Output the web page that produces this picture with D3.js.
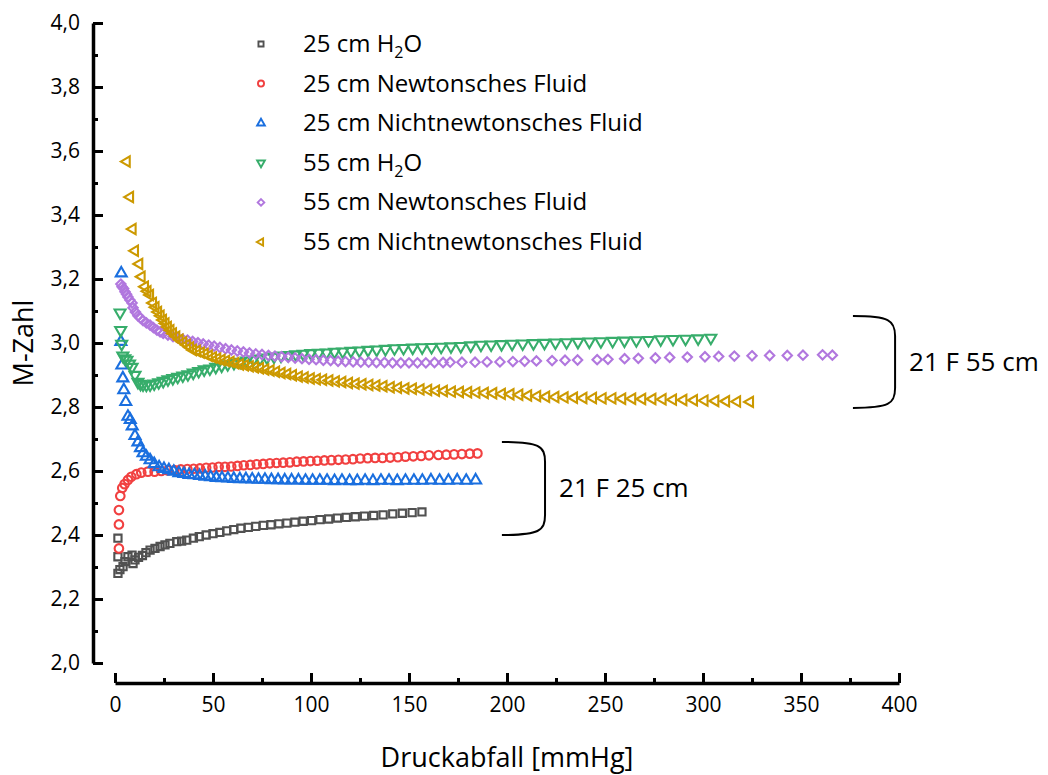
<!DOCTYPE html>
<html>
<head>
<meta charset="utf-8">
<script src="https://cdn.jsdelivr.net/npm/d3@7"></script>
<style>
  html, body { margin: 0; padding: 0; background: #fff; }
  svg { display: block; font-family: "Open Sans", sans-serif; }
</style>
</head>
<body>
<svg id="chart" width="1048" height="775"></svg>
<script>
// Pressure drop [mmHg] vs. M-number, catheter 21 F, two lengths, three fluids
const xTickValues = [0, 50, 100, 150, 200, 250, 300, 350, 400];
const yTickValues = [2.0, 2.2, 2.4, 2.6, 2.8, 3.0, 3.2, 3.4, 3.6, 3.8, 4.0];

const seriesNames = [
  "25 cm H_2O",
  "25 cm Newtonsches Fluid",
  "25 cm Nichtnewtonsches Fluid",
  "55 cm H_2O",
  "55 cm Newtonsches Fluid",
  "55 cm Nichtnewtonsches Fluid"
];
const seriesColors = ["#515151", "#F14040", "#1A6FDF", "#37AD6B", "#B177DE", "#CC9900"];

const h2o25 = [[1.5,2.390],[1.5,2.332],[1.5,2.280],[2.5,2.292],[4.1,2.301],[5.1,2.317],[6.6,2.332],[8.7,2.337],[9.2,2.311],[10.2,2.322],[12.0,2.330],[14.0,2.336],[15.8,2.345],[17.9,2.353],[20.4,2.358],[23.0,2.364],[25.5,2.369],[28.0,2.374],[31.5,2.379],[34.0,2.381],[36.6,2.384],[40.0,2.390],[43.0,2.395],[46.5,2.400],[50.0,2.404],[53.5,2.408],[57.0,2.413],[60.6,2.417],[64.2,2.421],[68.0,2.424],[71.8,2.427],[75.7,2.430],[79.6,2.432],[83.6,2.435],[87.7,2.437],[91.8,2.440],[96.0,2.443],[100.3,2.445],[104.6,2.448],[109.0,2.450],[113.5,2.453],[118.0,2.455],[122.6,2.457],[127.3,2.459],[132.0,2.461],[136.8,2.463],[141.7,2.466],[146.6,2.468],[151.6,2.470],[156.6,2.472]];

const newton25 = [[2.0,2.358],[2.0,2.433],[2.0,2.478],[2.7,2.522],[3.7,2.547],[4.9,2.559],[6.6,2.572],[8.3,2.582],[10.9,2.590],[13.4,2.595],[16.8,2.598],[20.2,2.598],[23.6,2.600],[27.0,2.602],[30.3,2.603],[33.6,2.605],[36.9,2.606],[40.1,2.607],[43.3,2.608],[46.5,2.610],[49.7,2.611],[52.9,2.613],[56.1,2.613],[59.3,2.614],[62.5,2.616],[65.7,2.618],[69.0,2.619],[72.3,2.621],[75.6,2.622],[79.0,2.624],[82.4,2.625],[85.8,2.626],[89.2,2.627],[92.7,2.629],[96.2,2.630],[99.7,2.631],[103.2,2.632],[106.8,2.633],[110.4,2.634],[114.0,2.635],[117.7,2.636],[121.4,2.637],[125.1,2.639],[128.9,2.640],[132.7,2.641],[136.5,2.641],[140.4,2.642],[144.3,2.643],[148.2,2.645],[152.2,2.646],[156.2,2.647],[160.2,2.649],[165.0,2.650],[169.0,2.651],[173.0,2.652],[177.0,2.653],[181.0,2.654],[184.9,2.655]];

const nonNewton25 = [[3.2,3.218],[3.0,3.004],[3.5,2.930],[4.0,2.890],[4.5,2.853],[5.5,2.816],[6.6,2.770],[7.8,2.760],[8.8,2.740],[10.2,2.710],[11.7,2.690],[13.0,2.672],[14.3,2.656],[16.0,2.645],[17.9,2.634],[20.0,2.622],[22.5,2.612],[25.0,2.607],[27.5,2.603],[30.0,2.598],[32.6,2.594],[35.2,2.591],[37.8,2.588],[40.5,2.587],[43.2,2.585],[46.0,2.583],[48.8,2.581],[51.7,2.579],[54.6,2.578],[57.6,2.577],[60.6,2.576],[63.7,2.575],[66.8,2.575],[70.0,2.574],[73.2,2.573],[76.5,2.573],[79.8,2.572],[83.2,2.572],[86.6,2.571],[90.1,2.571],[93.6,2.571],[97.2,2.570],[100.8,2.570],[104.5,2.570],[108.2,2.570],[112.0,2.569],[115.8,2.570],[119.7,2.569],[123.6,2.569],[127.6,2.570],[131.6,2.569],[135.7,2.570],[139.8,2.570],[144.0,2.569],[148.2,2.570],[152.5,2.570],[156.8,2.570],[161.2,2.571],[165.6,2.570],[170.1,2.570],[174.6,2.571],[179.2,2.570],[184.0,2.571]];

const h2o55 = [[2.6,3.095],[2.9,3.040],[3.4,2.997],[4.0,2.960],[5.0,2.952],[6.1,2.947],[7.4,2.935],[8.7,2.925],[10.2,2.900],[11.7,2.878],[13.0,2.872],[14.3,2.870],[16.0,2.869],[17.9,2.870],[20.0,2.873],[22.3,2.877],[24.6,2.881],[27.0,2.886],[29.5,2.890],[32.0,2.894],[34.6,2.898],[37.2,2.902],[39.9,2.907],[42.7,2.912],[45.5,2.917],[48.4,2.920],[51.4,2.925],[54.4,2.929],[57.5,2.933],[60.7,2.937],[63.9,2.941],[67.2,2.945],[70.6,2.948],[74.0,2.951],[77.5,2.954],[81.1,2.957],[84.7,2.960],[88.4,2.962],[92.2,2.964],[96.0,2.966],[99.9,2.968],[103.9,2.969],[107.9,2.970],[112.0,2.972],[116.2,2.973],[120.4,2.975],[124.7,2.976],[129.1,2.978],[133.5,2.979],[138.0,2.981],[142.6,2.983],[147.2,2.984],[151.9,2.985],[156.7,2.986],[161.5,2.987],[166.4,2.988],[171.4,2.989],[176.4,2.990],[181.5,2.992],[186.7,2.994],[191.9,2.995],[197.2,2.996],[202.6,2.997],[208.0,2.998],[213.5,2.999],[219.1,3.000],[224.7,3.001],[230.4,3.002],[236.2,3.003],[242.0,3.004],[247.9,3.005],[253.9,3.006],[259.9,3.007],[266.0,3.008],[272.2,3.009],[278.4,3.011],[284.7,3.012],[291.1,3.013],[297.5,3.014],[304.0,3.016]];

const newton55 = [[3.0,3.184],[3.6,3.176],[4.4,3.170],[5.1,3.160],[5.9,3.152],[6.6,3.144],[7.6,3.134],[8.7,3.125],[9.2,3.110],[10.4,3.097],[11.7,3.085],[13.0,3.078],[14.3,3.070],[16.0,3.063],[17.9,3.056],[19.6,3.048],[21.4,3.040],[23.0,3.035],[24.6,3.030],[27.0,3.025],[29.6,3.020],[32.0,3.016],[34.5,3.012],[37.0,3.009],[39.6,3.005],[42.3,3.001],[45.0,2.997],[47.8,2.993],[50.6,2.990],[53.5,2.986],[56.4,2.982],[59.4,2.978],[62.4,2.975],[65.5,2.972],[68.6,2.969],[71.8,2.966],[75.0,2.964],[78.3,2.961],[81.6,2.959],[85.0,2.957],[88.4,2.955],[91.9,2.953],[95.4,2.951],[99.0,2.949],[102.6,2.948],[106.3,2.946],[110.0,2.945],[113.8,2.943],[117.6,2.942],[121.5,2.941],[125.4,2.940],[129.4,2.940],[133.4,2.939],[137.5,2.939],[141.6,2.938],[145.8,2.938],[150.0,2.938],[154.3,2.938],[158.6,2.938],[163.0,2.939],[167.4,2.939],[171.0,2.940],[177.0,2.940],[183.7,2.940],[189.8,2.941],[196.4,2.941],[203.0,2.942],[209.0,2.943],[215.0,2.944],[223.0,2.945],[229.6,2.946],[236.0,2.947],[246.0,2.948],[251.5,2.949],[260.0,2.951],[267.0,2.952],[275.7,2.953],[283.0,2.955],[292.0,2.956],[301.0,2.957],[308.0,2.958],[316.0,2.959],[325.0,2.960],[334.0,2.961],[343.0,2.961],[351.0,2.962],[361.0,2.963],[366.0,2.962]];

const nonNewton55 = [[6.0,3.567],[7.7,3.456],[9.0,3.356],[10.2,3.288],[12.4,3.247],[13.6,3.207],[15.3,3.176],[16.6,3.162],[17.9,3.150],[19.4,3.125],[20.7,3.112],[22.0,3.097],[23.3,3.085],[24.5,3.072],[25.8,3.061],[27.0,3.050],[28.3,3.040],[29.6,3.030],[31.3,3.020],[33.0,3.010],[34.8,3.002],[36.7,2.994],[38.3,2.986],[39.8,2.978],[41.8,2.975],[43.8,2.970],[45.8,2.966],[47.9,2.960],[50.0,2.955],[52.2,2.951],[54.4,2.947],[56.7,2.944],[59.0,2.941],[61.4,2.937],[63.8,2.933],[66.3,2.930],[68.8,2.927],[71.4,2.924],[74.0,2.921],[76.7,2.917],[79.4,2.914],[82.2,2.910],[85.0,2.906],[87.9,2.903],[90.8,2.899],[93.8,2.895],[96.8,2.892],[99.9,2.889],[103.0,2.887],[106.2,2.885],[109.4,2.883],[112.7,2.880],[116.0,2.878],[119.4,2.875],[122.8,2.873],[126.3,2.871],[129.8,2.869],[133.4,2.867],[137.0,2.865],[140.7,2.862],[144.4,2.860],[148.2,2.858],[152.0,2.857],[155.9,2.855],[159.8,2.853],[163.8,2.851],[167.8,2.850],[171.9,2.848],[176.0,2.847],[180.2,2.846],[184.4,2.845],[188.7,2.844],[193.0,2.843],[197.4,2.841],[201.8,2.840],[206.3,2.838],[210.8,2.836],[215.4,2.834],[220.0,2.832],[224.7,2.831],[229.4,2.830],[234.2,2.829],[239.0,2.828],[243.9,2.828],[248.8,2.827],[253.8,2.827],[258.8,2.826],[263.9,2.826],[269.0,2.825],[274.2,2.825],[279.4,2.824],[284.7,2.823],[290.0,2.822],[295.4,2.821],[300.8,2.820],[306.3,2.819],[311.8,2.818],[317.4,2.817],[324.0,2.816]];

const seriesData = [h2o25, newton25, nonNewton25, h2o55, newton55, nonNewton55];

// Brackets grouping the two catheter lengths: [yTop, yBottom] in data units
const groupLabels = ["21 F 55 cm", "21 F 25 cm"];
const groupSpans = [[3.084, 2.797], [2.691, 2.400]];

// ---- layout ----
const svg = d3.select("#chart");
const x = d3.scaleLinear().domain([0, 400]).range([115, 899]);
const y = d3.scaleLinear().domain([2, 4]).range([663, 23]);
const yAxisX = 93;
const xAxisY = 683;

const de = d3.formatLocale({ decimal: ",", thousands: ".", grouping: [3], currency: ["", " €"] });
const fmtY = de.format(".1f");

// symbol per series (type, rotation)
const markers = [
  { type: d3.symbolSquare,   rot: 0,   size: 52 },
  { type: d3.symbolCircle,   rot: 0,   size: 58 },
  { type: d3.symbolTriangle, rot: 0,   size: 52 },
  { type: d3.symbolTriangle, rot: 180, size: 52 },
  { type: d3.symbolDiamond2, rot: 0,   size: 56 },
  { type: d3.symbolTriangle, rot: -90, size: 46 }
];

// ---- axes ----
const yMajor = d3.axisLeft(y).tickValues(yTickValues).tickSize(-10).tickSizeOuter(0)
  .tickPadding(13).tickFormat(fmtY);
const yMinor = d3.axisLeft(y).tickValues(d3.range(2.1, 4.0, 0.2)).tickSize(-5).tickFormat("");
const gy = svg.append("g").attr("transform", `translate(${yAxisX},0)`);
gy.call(yMajor);
gy.append("g").call(yMinor).select(".domain").remove();

const xMajor = d3.axisBottom(x).tickValues(xTickValues).tickSize(-10).tickSizeOuter(0).tickPadding(14);
const xMinor = d3.axisBottom(x).tickValues(d3.range(25, 400, 50)).tickSize(-5).tickFormat("");
const gx = svg.append("g").attr("transform", `translate(0,${xAxisY})`);
gx.call(xMajor);
gx.append("g").call(xMinor).select(".domain").remove();

svg.selectAll(".domain").attr("stroke", "#000").attr("stroke-width", 3.5);
svg.selectAll(".tick line").attr("stroke", "#000").attr("stroke-width", 3);
svg.selectAll(".tick text").attr("fill", "#000").attr("font-size", 21)
  .attr("font-family", "'Open Sans', sans-serif");

// axis titles
svg.append("text").attr("x", (x.range()[0] + x.range()[1]) / 2).attr("y", 767)
  .attr("text-anchor", "middle").attr("font-size", 27).text("Druckabfall [mmHg]");
svg.append("text").attr("transform", `translate(33,${(y.range()[0] + y.range()[1]) / 2}) rotate(-90)`)
  .attr("text-anchor", "middle").attr("font-size", 27).text("M-Zahl");

// ---- data points ----
const sym = d3.symbol();
seriesData.forEach((data, i) => {
  const m = markers[i];
  const path = sym.type(m.type).size(m.size)();
  svg.append("g").attr("class", "series")
    .selectAll("path").data(data).join("path")
    .attr("d", path)
    .attr("transform", d => `translate(${x(d[0])},${y(d[1])}) rotate(${m.rot})`)
    .attr("fill", "none")
    .attr("stroke", seriesColors[i])
    .attr("stroke-width", 2.1);
});

// ---- legend ----
function writeLabel(textSel, label) {
  const parts = label.split("_");
  textSel.append("tspan").text(parts[0]);
  if (parts.length > 1) {
    textSel.append("tspan").attr("dy", 6).attr("font-size", 16).text(parts[1][0]);
    textSel.append("tspan").attr("dy", -6).text(parts[1].slice(1));
  }
}
const legend = svg.append("g").attr("transform", "translate(261,44)");
seriesNames.forEach((name, i) => {
  const row = legend.append("g").attr("transform", `translate(0,${i * 39.6})`);
  const m = markers[i];
  row.append("path")
    .attr("d", sym.type(m.type).size(m.size * 0.5)())
    .attr("transform", `rotate(${m.rot})`)
    .attr("fill", "none").attr("stroke", seriesColors[i]).attr("stroke-width", 1.9);
  const t = row.append("text").attr("x", 42).attr("y", 8).attr("font-size", 24).attr("fill", "#000");
  writeLabel(t, name);
});

// ---- group brackets ----
const bracketX = [[376.5, 398], [197.4, 219.4]];
groupSpans.forEach((span, i) => {
  const x0 = x(bracketX[i][0]), x1 = x(bracketX[i][1]);
  const yt = y(span[0]), yb = y(span[1]);
  const r = 20;
  const p = d3.path();
  p.moveTo(x0, yt);
  p.bezierCurveTo(x1 - 6, yt, x1, yt + 4, x1, yt + r);
  p.lineTo(x1, yb - r);
  p.bezierCurveTo(x1, yb - 4, x1 - 6, yb, x0, yb);
  svg.append("path").attr("d", p.toString()).attr("fill", "none")
    .attr("stroke", "#000").attr("stroke-width", 2);
  svg.append("text").attr("x", x1 + 14).attr("y", (yt + yb) / 2 + 9)
    .attr("font-size", 26).attr("fill", "#000").text(groupLabels[i]);
});
</script>
</body>
</html>
